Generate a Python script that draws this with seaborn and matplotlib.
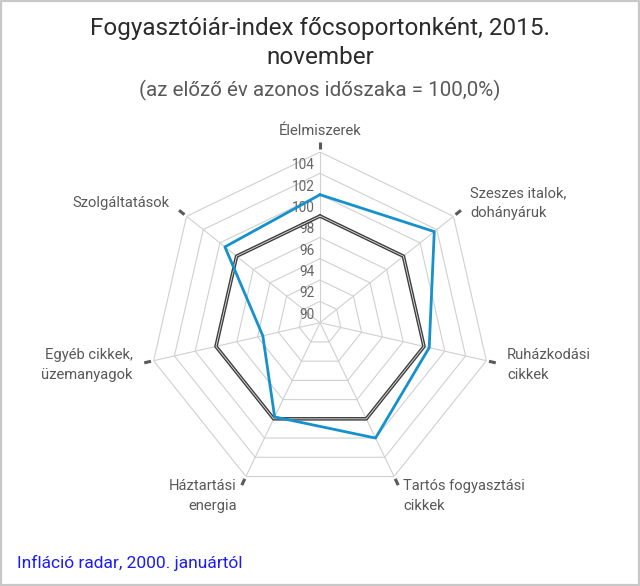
import numpy as np
import matplotlib
matplotlib.use('Agg')
import matplotlib.pyplot as plt
import matplotlib.transforms as mtransforms
from matplotlib.patches import Rectangle
import seaborn as sns

categories = ['Élelmiszerek', 'Szeszes italok,\ndohányáruk', 'Ruházkodási\ncikkek',
              'Tartós fogyasztási\ncikkek', 'Háztartási\nenergia',
              'Egyéb cikkek,\nüzemanyagok', 'Szolgáltatások']
index_2015_nov = [102.0, 103.7, 100.5, 102.0, 99.8, 95.5, 101.4]
base_100 = [100, 100, 100, 100, 100, 100, 100]
ring_ticks = [90, 92, 94, 96, 98, 100, 102, 104]
r_min, r_max = 90, 106

sns.set_theme(style='white')
plt.rcParams['font.family'] = ['Roboto', 'DejaVu Sans']

fig = plt.figure(figsize=(6.4, 5.86), dpi=100)
fig.patches.append(Rectangle((0.002, 0.002), 0.996, 0.996, transform=fig.transFigure,
                             fill=False, edgecolor='#c8c8c8', linewidth=1.6))

ax = fig.add_axes([0.2333, 0.158, 0.5334, 0.5826], projection='polar')
ax.set_theta_zero_location('N')
ax.set_theta_direction(-1)
ax.set_ylim(r_min, r_max)
ax.grid(False)
ax.spines['polar'].set_visible(False)
ax.set_xticks([])
ax.set_yticks([])
ax.set_facecolor('none')

n = len(categories)
angles = np.linspace(0, 2 * np.pi, n, endpoint=False)
closed = np.append(angles, angles[0])

# polygon grid
for r in ring_ticks[1:] + [r_max]:
    ax.plot(closed, [r] * (n + 1), color='#d0d0d0', lw=0.8, zorder=1)
for a in angles:
    ax.plot([a, a], [r_min, r_max], color='#d0d0d0', lw=0.8, zorder=1)
    ax.plot([a, a], [r_max + 0.25, r_max + 0.9], color='#595959', lw=2.2,
            solid_capstyle='butt', clip_on=False)

# ring labels on the top axis
lab_tr = mtransforms.offset_copy(ax.transData, fig=fig, x=-5, y=1, units='dots')
for r in ring_ticks:
    ax.text(0, r, str(r), transform=lab_tr, ha='right', va='bottom',
            fontsize=9.8, color='#666666')

# 100 reference line (double line look)
sns.lineplot(x=closed, y=base_100 + base_100[:1], sort=False, estimator=None,
             ax=ax, color='#404040', lw=2.6, zorder=3)
ax.plot(closed, base_100 + base_100[:1], color='#e0e0e0', lw=0.6, zorder=4)

sns.lineplot(x=closed, y=index_2015_nov + index_2015_nov[:1], sort=False,
             estimator=None, ax=ax, color='#1591cc', lw=2.0, zorder=5)
ax.set_xlabel('')
ax.set_ylabel('')

# category labels
for a, lab in zip(angles, categories):
    s = np.sin(a)
    if abs(s) < 0.01:
        ha = 'center'
    elif s > 0:
        ha = 'left'
    else:
        ha = 'right'
    ax.text(a, 108.0, lab, ha=ha, va='center', multialignment=ha,
            fontsize=10.6, color='#595959', linespacing=1.55)

fig.text(0.5, 1 - 28 / 586, 'Fogyasztóiár-index főcsoportonként, 2015.', ha='center',
         va='center', fontsize=17.5, color='#2b2b2b')
fig.text(0.5, 1 - 57 / 586, 'november', ha='center', va='center',
         fontsize=17.5, color='#2b2b2b')
fig.text(0.5, 1 - 90 / 586, '(az előző év azonos időszaka = 100,0%)', ha='center',
         va='center', fontsize=14.8, color='#595959')
fig.text(17 / 640, 1 - 563 / 586, 'Infláció radar, 2000. januártól', ha='left',
         va='center', fontsize=12.5, color='#1a1aff')

fig.savefig('out.png', dpi=100)
